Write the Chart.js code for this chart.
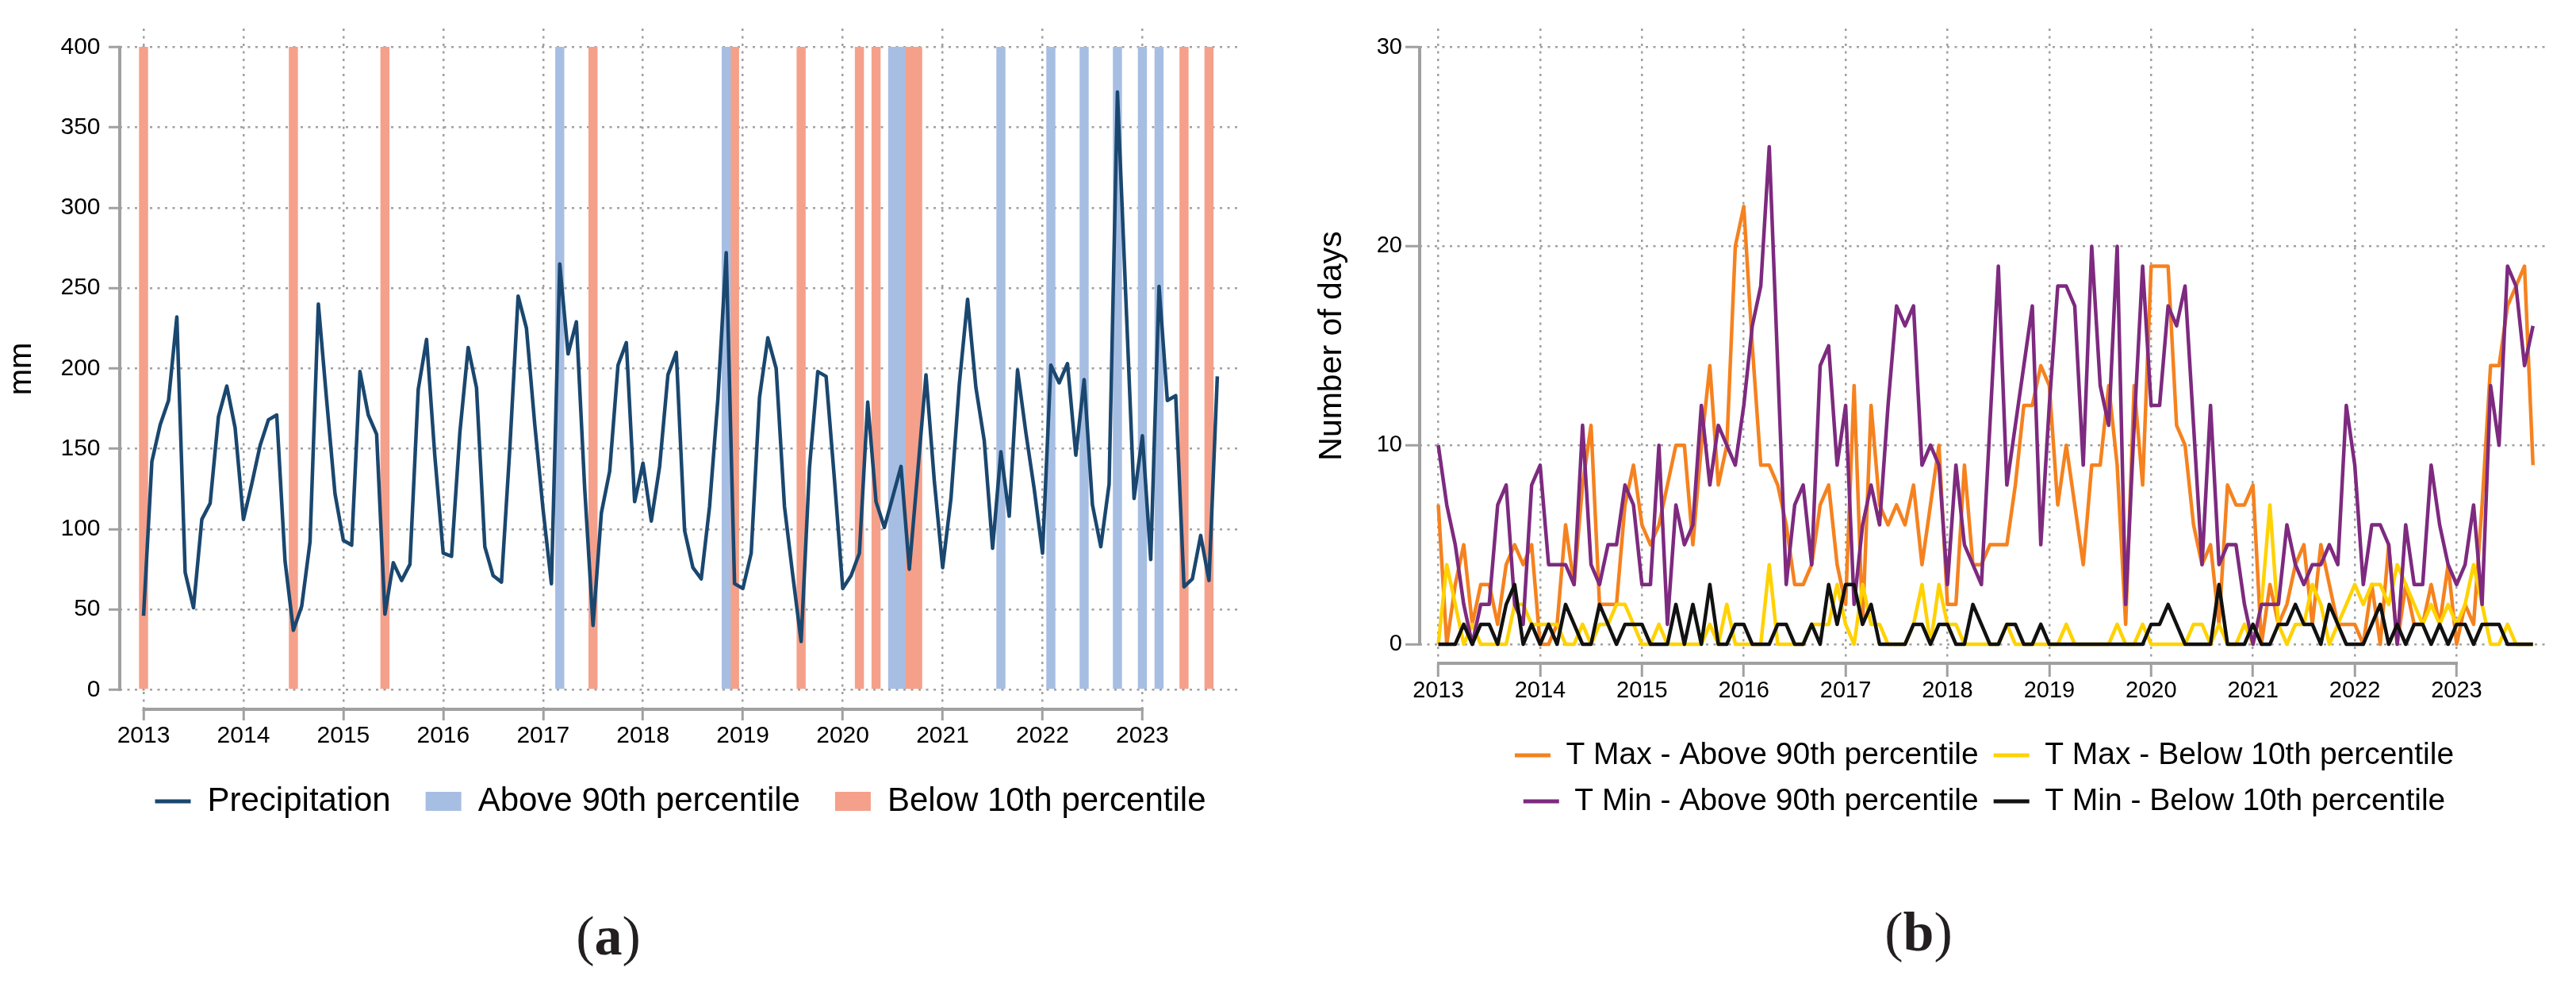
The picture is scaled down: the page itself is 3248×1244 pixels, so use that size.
<!DOCTYPE html>
<html>
<head>
<meta charset="utf-8">
<title>Precipitation and temperature extremes</title>
<script src="https://cdn.jsdelivr.net/npm/chart.js@4.4.1/dist/chart.umd.min.js"></script>
<style>
  html, body { margin: 0; padding: 0; background: #fff; }
  body { width: 3248px; height: 1244px; position: relative; overflow: hidden; }
  .panel { position: absolute; top: 0; width: 1624px; height: 1244px; }
  #panelA { left: 0; }
  #panelB { left: 1624px; }
  .tag { position: absolute; font-family: 'Liberation Serif', 'DejaVu Serif', serif; font-size: 70px; line-height: 1; color: #231f20; transform: translateX(-50%); }
</style>
</head>
<body>
<div class="panel" id="panelA"><canvas id="precipCanvas"></canvas></div>
<div class="panel" id="panelB"><canvas id="tempCanvas"></canvas></div>
<div class="tag" style="left:767px; top:1145px">(<b>a</b>)</div>
<div class="tag" style="left:2419px; top:1140px">(<b>b</b>)</div>
<script>
// monthly series, Jan 2013 .. Oct 2023
const startYear = 2013;
const yearLabels = ['2013', '2014', '2015', '2016', '2017', '2018', '2019', '2020', '2021', '2022', '2023'];
const precipTicks = [0, 50, 100, 150, 200, 250, 300, 350, 400];
const dayTicks = [0, 10, 20, 30];

const precipitation = [
    46, 142, 165, 180, 232, 73, 51, 106, 116, 170, 189, 163,
    106, 128, 152, 168, 171, 80, 37, 52, 92, 240, 180, 122,
    93, 90, 198, 171, 159, 47, 79, 68, 78, 187, 218, 145,
    85, 83, 160, 213, 188, 89, 71, 67, 150, 245, 225, 165,
    112, 66, 265, 209, 229, 125, 40, 110, 136, 202, 216, 117,
    141, 105, 139, 196, 210, 99, 76, 69, 114, 181, 272, 66,
    63, 85, 182, 219, 200, 114, 71, 30, 138, 198, 195, 131,
    63, 71, 85, 179, 117, 101, 120, 139, 75, 135, 196, 130,
    76, 119, 190, 243, 188, 155, 88, 148, 108, 199, 160, 125,
    85, 202, 191, 203, 146, 193, 115, 89, 128, 372, 245, 119,
    158, 81, 251, 180, 183, 64, 69, 96, 68, 195
];
const above90th = ['2017-03', '2018-11', '2020-07', '2020-08', '2021-08', '2022-02', '2022-06', '2022-10', '2023-01', '2023-03'];
const below10th = ['2013-01', '2014-07', '2015-06', '2017-07', '2018-12', '2019-08', '2020-03', '2020-05', '2020-09', '2020-10', '2023-06', '2023-09'];

const tmaxAbove90 = [
    7, 0, 3, 5, 1, 3, 3, 1, 4, 5, 4, 5,
    0, 0, 1, 6, 3, 8, 11, 2, 2, 2, 7, 9,
    6, 5, 6, 8, 10, 10, 5, 10, 14, 8, 10, 20,
    22, 15, 9, 9, 8, 6, 3, 3, 4, 7, 8, 4,
    2, 13, 1, 12, 7, 6, 7, 6, 8, 4, 7, 10,
    2, 2, 9, 4, 4, 5, 5, 5, 8, 12, 12, 14,
    13, 7, 10, 7, 4, 9, 9, 13, 9, 1, 13, 8,
    19, 19, 19, 11, 10, 6, 4, 5, 1, 8, 7, 7,
    8, 0, 3, 1, 2, 4, 5, 1, 5, 3, 1, 1,
    1, 0, 3, 0, 5, 0, 3, 1, 1, 3, 1, 4,
    0, 2, 1, 7, 14, 14, 17, 18, 19, 9
];
const tmaxBelow10 = [
    0, 4, 2, 0, 1, 0, 0, 0, 0, 2, 2, 1,
    1, 1, 1, 0, 0, 1, 0, 1, 1, 2, 2, 1,
    0, 0, 1, 0, 0, 0, 0, 0, 1, 0, 2, 0,
    0, 0, 0, 4, 0, 0, 0, 0, 1, 1, 1, 3,
    1, 0, 3, 1, 1, 0, 0, 0, 1, 3, 0, 3,
    1, 1, 0, 0, 0, 0, 0, 1, 0, 0, 0, 0,
    0, 0, 1, 0, 0, 0, 0, 0, 1, 0, 0, 1,
    0, 0, 0, 0, 0, 1, 1, 0, 1, 0, 0, 1,
    0, 2, 7, 1, 0, 1, 1, 3, 2, 0, 1, 2,
    3, 2, 3, 3, 2, 4, 3, 2, 1, 2, 1, 2,
    1, 2, 4, 2, 0, 0, 1, 0, 0, 0
];
const tminAbove90 = [
    10, 7, 5, 2, 0, 2, 2, 7, 8, 2, 1, 8,
    9, 4, 4, 4, 3, 11, 4, 3, 5, 5, 8, 7,
    3, 3, 10, 1, 7, 5, 6, 12, 8, 11, 10, 9,
    12, 16, 18, 25, 14, 3, 7, 8, 4, 14, 15, 9,
    12, 2, 6, 8, 6, 12, 17, 16, 17, 9, 10, 9,
    3, 9, 5, 4, 3, 11, 19, 8, 11, 14, 17, 5,
    12, 18, 18, 17, 9, 20, 13, 11, 20, 2, 11, 19,
    12, 12, 17, 16, 18, 11, 4, 12, 4, 5, 5, 2,
    0, 2, 2, 2, 6, 4, 3, 4, 4, 5, 4, 12,
    9, 3, 6, 6, 5, 0, 6, 3, 3, 9, 6, 4,
    3, 4, 7, 2, 13, 10, 19, 18, 14, 16
];
const tminBelow10 = [
    0, 0, 0, 1, 0, 1, 1, 0, 2, 3, 0, 1,
    0, 1, 0, 2, 1, 0, 0, 2, 1, 0, 1, 1,
    1, 0, 0, 0, 2, 0, 2, 0, 3, 0, 0, 1,
    1, 0, 0, 0, 1, 1, 0, 0, 1, 0, 3, 1,
    3, 3, 1, 2, 0, 0, 0, 0, 1, 1, 0, 1,
    1, 0, 0, 2, 1, 0, 0, 1, 1, 0, 0, 1,
    0, 0, 0, 0, 0, 0, 0, 0, 0, 0, 0, 0,
    1, 1, 2, 1, 0, 0, 0, 0, 3, 0, 0, 0,
    1, 0, 0, 1, 1, 2, 1, 1, 0, 2, 1, 0,
    0, 0, 1, 2, 0, 1, 0, 1, 1, 0, 1, 0,
    1, 1, 0, 1, 1, 1, 0, 0, 0, 0
];

Chart.defaults.font.family = "'Liberation Sans', Arial, sans-serif";
Chart.defaults.color = '#000';

const GRID = '#a0a0a0';

function monthIndex(ym) {
    const [y, m] = ym.split('-').map(Number);
    return (y - startYear) * 12 + m - 1;
}
function toPoints(values) {
    return values.map((v, i) => ({x: i, y: v}));
}
function bandPoints(months, top) {
    return months.map(ym => ({x: monthIndex(ym), y: top}));
}

// legend entries: a short line for line series, a filled box for bars
function legendItems(chart) {
    return chart.data.datasets.map((ds, i) => ({
        text: ds.label,
        datasetIndex: i,
        pointStyle: ds.type === 'bar' ? 'rect' : 'line',
        fillStyle: ds.type === 'bar' ? ds.backgroundColor : 'rgba(0,0,0,0)',
        strokeStyle: ds.borderColor,
        lineWidth: ds.type === 'bar' ? 0 : 5,
        fontColor: '#000',
        hidden: false
    }));
}

// axis lines only over the tick range, as in the original figure
const axisLines = {
    id: 'axisLines',
    afterDraw(chart) {
        const {ctx, chartArea} = chart;
        const xs = chart.scales.x, ys = chart.scales.y;
        const xt = xs.ticks, yt = ys.ticks;
        ctx.save();
        ctx.strokeStyle = GRID;
        ctx.lineWidth = 4;
        ctx.beginPath();
        ctx.moveTo(xs.getPixelForValue(xt[0].value) - 1.5, chartArea.bottom);
        ctx.lineTo(xs.getPixelForValue(xt[xt.length - 1].value) + 1.5, chartArea.bottom);
        ctx.moveTo(chartArea.left, ys.getPixelForValue(yt[0].value) + 1.5);
        ctx.lineTo(chartArea.left, ys.getPixelForValue(yt[yt.length - 1].value) - 1.5);
        ctx.stroke();
        ctx.restore();
    }
};

function axes(s) {
    return {
        x: {
            type: 'linear',
            min: s.xMin, max: s.xMax,
            offset: false,
            afterBuildTicks: scale => { scale.ticks = yearLabels.map((_, i) => ({value: i * 12})); },
            afterFit: scale => { scale.height = s.xHeight; },
            ticks: {
                callback: (v, i) => yearLabels[i],
                autoSkip: false, maxRotation: 0,
                padding: s.xPad,
                font: {size: s.tickSize}
            },
            grid: {offset: false, color: GRID, lineWidth: 2.5, tickLength: s.tickLen, tickColor: GRID, tickWidth: 3, tickBorderDash: []},
            border: {display: false, dash: [3, 6.5]}
        },
        y: {
            type: 'linear',
            min: s.yMin, max: s.yMax,
            afterBuildTicks: scale => { scale.ticks = s.yTicks.map(v => ({value: v})); },
            afterFit: scale => { scale.width = s.yWidth; },
            ticks: {padding: s.yPad, font: {size: s.tickSize}},
            grid: {color: GRID, lineWidth: 2.5, tickLength: s.yTickLen, tickColor: GRID, tickWidth: 3, tickBorderDash: []},
            border: {display: false, dash: [3, 6.5]},
            title: {display: true, text: s.yTitle, font: {size: s.titleSize}, padding: {top: s.titlePad, bottom: 0}}
        }
    };
}

new Chart(document.getElementById('precipCanvas'), {
    type: 'line',
    data: {
        datasets: [
            {
                type: 'line',
                label: 'Precipitation',
                data: toPoints(precipitation),
                borderColor: '#1a476f',
                borderWidth: 4.5,
                borderJoinStyle: 'round',
                pointRadius: 0,
                tension: 0
            },
            {
                type: 'bar',
                label: 'Above 90th percentile',
                data: bandPoints(above90th, precipTicks[precipTicks.length - 1]),
                backgroundColor: '#a7bee3',
                borderWidth: 0,
                grouped: false,
                barThickness: 10.8
            },
            {
                type: 'bar',
                label: 'Below 10th percentile',
                data: bandPoints(below10th, precipTicks[precipTicks.length - 1]),
                backgroundColor: '#f5a08a',
                borderWidth: 0,
                grouped: false,
                barThickness: 10.8
            }
        ]
    },
    options: {
        animation: false,
        responsive: true,
        maintainAspectRatio: false,
        events: [],
        layout: {padding: {top: 36, right: 59, bottom: 203, left: 0}},
        scales: axes({
            xMin: -2.859, xMax: 131.87, xHeight: 51, xPad: 2, tickLen: 14,
            yMin: -12.2, yMax: 411.5, yTicks: precipTicks, yWidth: 151, yPad: 10.5, yTickLen: 14,
            tickSize: 30, yTitle: 'mm', titleSize: 40, titlePad: 4
        }),
        plugins: {
            tooltip: {enabled: false},
            legend: {
                position: 'bottom',
                fullSize: false,
                labels: {
                    usePointStyle: true,
                    pointStyleWidth: 45,
                    boxHeight: 24,
                    padding: 44,
                    font: {size: 42},
                    generateLabels: legendItems
                }
            }
        }
    },
    plugins: [axisLines]
});

new Chart(document.getElementById('tempCanvas'), {
    type: 'line',
    data: {
        datasets: [
            {label: 'T Max - Above 90th percentile', data: toPoints(tmaxAbove90), borderColor: '#f5821f', order: 3},
            {label: 'T Max - Below 10th percentile', data: toPoints(tmaxBelow10), borderColor: '#ffd200', order: 2},
            {label: 'T Min - Above 90th percentile', data: toPoints(tminAbove90), borderColor: '#7d2a7f', order: 1},
            {label: 'T Min - Below 10th percentile', data: toPoints(tminBelow10), borderColor: '#111111', order: 0}
        ]
    },
    options: {
        animation: false,
        responsive: true,
        maintainAspectRatio: false,
        events: [],
        datasets: {line: {borderWidth: 4.5, borderJoinStyle: 'round', pointRadius: 0, tension: 0}},
        layout: {padding: {top: 36, right: 34, bottom: 204.5, left: 0}},
        scales: axes({
            xMin: -2.196, xMax: 130.89, xHeight: 77.5, xPad: 1, tickLen: 17,
            yMin: -0.957, yMax: 30.94, yTicks: dayTicks, yWidth: 166, yPad: 4, yTickLen: 18,
            tickSize: 29, yTitle: 'Number of days', titleSize: 41, titlePad: 31
        }),
        plugins: {
            tooltip: {enabled: false},
            legend: {
                position: 'bottom',
                fullSize: false,
                labels: {
                    usePointStyle: true,
                    pointStyleWidth: 45,
                    boxHeight: 20,
                    padding: 19,
                    font: {size: 39},
                    generateLabels: legendItems
                }
            }
        }
    },
    plugins: [axisLines]
});
</script>
</body>
</html>
